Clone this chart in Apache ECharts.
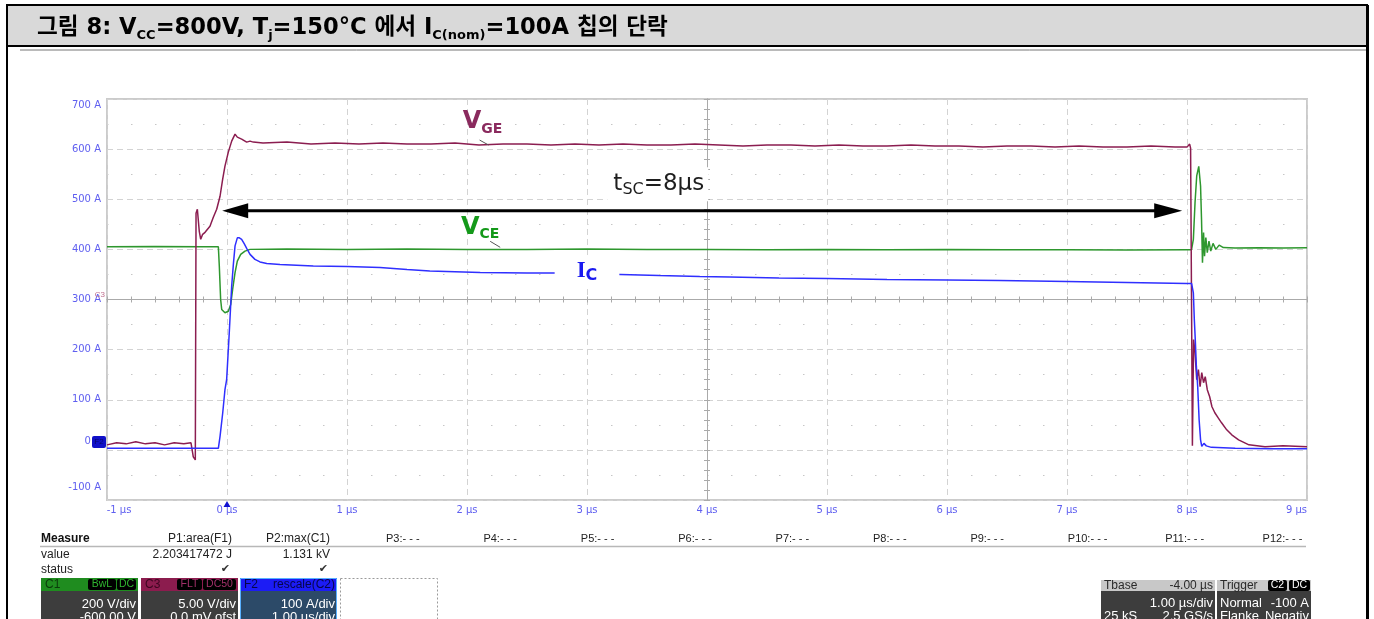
<!DOCTYPE html>
<html lang="ko">
<head>
<meta charset="utf-8">
<title>VCC=800V 단락</title>
<script src="https://cdn.jsdelivr.net/npm/echarts@6.0.0/dist/echarts.min.js"></script>
<style>
  html, body { margin: 0; padding: 0; background: #fff; }
  #chart { width: 1374px; height: 619px; }
</style>
</head>
<body>
<div id="chart"></div>
<script>
// Screen ranges: 10 x 8 divisions
const timeRange = [-1, 9];       // µs, 1.00 µs/div
const icRange = [-100, 700];     // A, F2 = rescale(C2), 100 A/div
const vceRange = [-200, 1400];   // V, C1 200 V/div, offset -600 V
const vgeRange = [-20, 20];      // V, C3 5.00 V/div, 0 V offset

// Gate-emitter voltage V_GE (C3), µs / V
const vgeTime = [-1.00, -0.92, -0.84, -0.76, -0.68, -0.60, -0.52, -0.44, -0.36, -0.30,
  -0.281, -0.264, -0.258, -0.247, -0.231, -0.219, -0.203, -0.183, -0.142, -0.114, -0.086, -0.058, -0.036, -0.017,
  0.011, 0.039, 0.067, 0.086, 0.122, 0.164, 0.192, 0.219,
  0.3, 0.5, 0.7, 0.9, 1.1, 1.3, 1.5, 1.7, 1.9, 2.1, 2.3, 2.5, 2.7, 2.9, 3.1, 3.3, 3.5, 3.7, 3.9, 4.1,
  4.3, 4.5, 4.7, 4.9, 5.1, 5.3, 5.5, 5.7, 5.9, 6.1, 6.3, 6.5, 6.7, 6.9, 7.1, 7.3, 7.5, 7.7, 7.9,
  8.000, 8.022, 8.030, 8.045, 8.055, 8.067, 8.081, 8.095, 8.109, 8.123, 8.138, 8.152, 8.169, 8.189,
  8.208, 8.232, 8.260, 8.288, 8.331, 8.373, 8.430, 8.516, 8.65, 8.80, 9.00];
const vgeVolts = [-14.5, -14.3, -14.4, -14.2, -14.4, -14.3, -14.5, -14.3, -14.4, -14.3,
  -15.7, -16.0, 8.6, 9.0, 6.8, 6.0, 6.5, 6.7, 7.3, 8.2, 9.0, 10.3, 12.0, 13.3,
  14.7, 15.8, 16.5, 16.2, 16.0, 15.7, 15.8, 15.7,
  15.6, 15.7, 15.5, 15.6, 15.5, 15.6, 15.5, 15.5, 15.6, 15.4, 15.5, 15.5, 15.4, 15.5, 15.4, 15.5, 15.4, 15.4, 15.5, 15.4,
  15.3, 15.4, 15.4, 15.3, 15.4, 15.3, 15.3, 15.4, 15.3, 15.3, 15.2, 15.3, 15.3, 15.2, 15.3, 15.2, 15.2, 15.3, 15.2,
  15.2, 15.5, 15.1, -14.6, -4.0, -5.3, -8.0, -7.0, -8.7, -7.3, -8.3, -7.7, -9.0, -9.7,
  -10.7, -11.3, -11.8, -12.3, -13.0, -13.5, -14.0, -14.5, -14.7, -14.6, -14.7];

// Collector-emitter voltage V_CE (C1), µs / V
const vceTime = [-1.00, -0.60, -0.20, -0.072, -0.064, -0.053, -0.044, -0.017, 0.011, 0.031, 0.047, 0.067, 0.086, 0.114, 0.150, 0.192,
  0.5, 1.0, 1.5, 2.0, 2.5, 3.0, 3.5, 4.0, 4.5, 5.0, 5.5, 6.0, 6.5, 7.0, 7.5, 8.0,
  8.038, 8.053, 8.067, 8.081, 8.098, 8.113, 8.121, 8.129, 8.138, 8.146, 8.157, 8.169, 8.183, 8.198, 8.217,
  8.240, 8.268, 8.303, 8.40, 8.60, 8.80, 9.00];
const vceVolts = [810, 811, 810, 810, 733, 600, 560, 547, 553, 580, 640, 707, 753, 780, 793, 800,
  801, 800, 801, 800, 800, 801, 800, 800, 799, 800, 799, 800, 799, 799, 798, 799,
  799, 840, 987, 1093, 1131, 1053, 920, 747, 867, 773, 847, 787, 833, 793, 824,
  800, 817, 807, 805, 806, 805, 806];

// Collector current I_C (F2), µs / A
const icTime = [-1.00, -0.60, -0.30, -0.072, -0.058, -0.036, -0.017, -0.003,
  0.019, 0.039, 0.053, 0.067, 0.086, 0.103, 0.122, 0.142, 0.164, 0.192,
  0.233, 0.275, 0.331, 0.442, 0.719, 1.00, 1.275, 1.50, 1.69, 2.11,
  2.50, 2.73, 3.28, 3.60, 3.94, 4.19, 4.60, 5.00, 5.50, 6.00,
  6.44, 7.00, 7.50, 8.00, 8.038,
  8.053, 8.061, 8.069, 8.078, 8.089, 8.101, 8.113, 8.123, 8.141, 8.161,
  8.203, 8.402, 8.70, 9.00];
const icAmps = [3, 3, 3, 3, 27, 73, 120, 140,
  234, 327, 370, 407, 423, 423, 420, 412, 402, 390,
  380, 375, 372, 370, 367, 366, 364, 360, 357, 354,
  353, 353, 350, 348, 346, 345, 343, 342, 340, 339,
  338, 336, 334, 332, 332,
  313, 260, 220, 167, 127, 60, 20, 7, 13, 8,
  5, 3, 2, 2];

// Short-circuit interval t_SC = 8 µs
const tscStart = -0.04;
const tscEnd = 7.96;

// Measurement readout
const measureNames = ['P1:area(F1)', 'P2:max(C1)', 'P3:- - -', 'P4:- - -', 'P5:- - -', 'P6:- - -',
  'P7:- - -', 'P8:- - -', 'P9:- - -', 'P10:- - -', 'P11:- - -', 'P12:- - -'];
const measureValues = ['2.203417472 J', '1.131 kV'];

const zip = (t, v) => t.map((x, i) => [x, v[i]]);

const chart = echarts.init(document.getElementById('chart'), null, { renderer: 'canvas' });

const labelBlue = '#5f5ff0';
const labelFont = 'DejaVu Sans, Verdana, sans-serif';
const gridDash = { color: '#d3d3d3', type: [6, 4], width: 1 };
const centreLine = { color: '#aaaaaa', width: 1 };

function lbl(size, pad) {
  return { color: labelBlue, fontSize: size, fontFamily: labelFont, padding: pad };
}

// centre graticule axes with 0.2 div ticks on both sides
function centreX(inside) {
  return {
    type: 'value', min: -5, max: 5, interval: 1, position: 'bottom', offset: -200.5,
    axisLine: { show: true, lineStyle: centreLine },
    axisTick: { show: true, inside, length: 3, lineStyle: centreLine },
    minorTick: { show: true, splitNumber: 5, length: 3, lineStyle: centreLine },
    axisLabel: { show: false }, splitLine: { show: false }
  };
}
function centreY(inside) {
  return {
    type: 'value', min: -4, max: 4, interval: 1, position: 'left', offset: -600,
    axisLine: { show: true, lineStyle: centreLine },
    axisTick: { show: true, inside, length: 3, lineStyle: centreLine },
    minorTick: { show: true, splitNumber: 5, length: 3, lineStyle: centreLine },
    axisLabel: { show: false }, splitLine: { show: false }
  };
}

const option = {
  animation: false,
  backgroundColor: '#ffffff',
  grid: { left: 107, top: 99, width: 1200, height: 401, show: true, borderColor: '#cbcbcb', borderWidth: 2 },
  xAxis: [
    {
      type: 'value', min: timeRange[0], max: timeRange[1], interval: 1, position: 'bottom',
      axisLine: { show: false }, axisTick: { show: false },
      axisLabel: {
        margin: 5,
        formatter: v => v === timeRange[0] ? '{lo|' + v + ' µs}' : v === timeRange[1] ? '{hi|' + v + ' µs}' : '{n|' + v + ' µs}',
        rich: { n: lbl(10, 0), lo: lbl(10, [0, 0, 0, 24]), hi: lbl(10, [0, 21, 0, 0]) }
      },
      splitLine: { show: true, lineStyle: gridDash }
    },
    centreX(false),
    centreX(true)
  ],
  yAxis: [
    {
      type: 'value', min: icRange[0], max: icRange[1], interval: 100, position: 'left',
      axisLine: { show: false }, axisTick: { show: false },
      axisLabel: {
        margin: 6,
        formatter: v => v === icRange[1] ? '{hi|' + v + ' A}' : v === icRange[0] ? '{lo|' + v + ' A}' : v === 0 ? '{z|' + v + ' A}' : '{n|' + v + ' A}',
        rich: { n: lbl(10, 0), hi: lbl(10, [12, 0, 0, 0]), lo: lbl(10, [0, 0, 26, 0]), z: lbl(10, [0, 0, 16, 0]) }
      },
      splitLine: { show: true, lineStyle: gridDash },
      minorTick: { show: false, splitNumber: 2 },
      minorSplitLine: { show: true, lineStyle: { color: '#c6c6c6', type: [1.5, 22.5], width: 1 } }
    },
    { type: 'value', min: vceRange[0], max: vceRange[1], show: false, position: 'right' },
    { type: 'value', min: vgeRange[0], max: vgeRange[1], show: false, position: 'right' },
    centreY(false),
    centreY(true)
  ],
  series: [
    {
      name: 'V_CE', type: 'line', xAxisIndex: 0, yAxisIndex: 1, data: zip(vceTime, vceVolts),
      symbol: 'none', lineStyle: { color: '#2e972e', width: 1.5 }, z: 3, silent: true
    },
    {
      name: 'V_GE', type: 'line', xAxisIndex: 0, yAxisIndex: 2, data: zip(vgeTime, vgeVolts),
      symbol: 'none', lineStyle: { color: '#8b1d50', width: 1.5 }, z: 4, silent: true
    },
    {
      name: 'I_C', type: 'line', xAxisIndex: 0, yAxisIndex: 0, data: zip(icTime, icAmps),
      symbol: 'none', lineStyle: { color: '#2f2fff', width: 1.5 }, z: 5, silent: true
    }
  ]
};
chart.setOption(option);

// ---------- overlay: frame, annotations, readout ----------
const px = (yi, pt) => chart.convertToPixel({ xAxisIndex: 0, yAxisIndex: yi }, pt);
const tableFont = 'Liberation Sans, Arial, sans-serif';
const g = [];

function T(x, y, text, st, z) {
  g.push({ type: 'text', x, y, z: z || 60, silent: true,
    style: Object.assign({ text, fill: '#222', fontSize: 12, fontFamily: tableFont, align: 'left', verticalAlign: 'middle' }, st || {}) });
}
function R(x, y, w, h, fill, extra) {
  const e = extra || {};
  g.push({ type: 'rect', z: e.z || 55, silent: true, shape: { x, y, width: w, height: h, r: e.r || 0 },
    style: { fill, stroke: e.stroke || null, lineWidth: e.lw || 0, lineDash: e.dash || null } });
}
function L(x1, y1, x2, y2, stroke, lw, z) {
  g.push({ type: 'line', z: z || 58, silent: true, shape: { x1, y1, x2, y2 }, style: { stroke, lineWidth: lw } });
}

// page frame and caption bar
R(7, 5, 1360, 41, '#d9d9d9', { stroke: '#000', lw: 2, z: 50 });
L(7, 46, 7, 625, '#000', 2);
L(1367.5, 5, 1367.5, 625, '#000', 3);
L(20, 50, 1366, 50, '#777', 1);
const capFont = "'DejaVu Sans', 'Noto Sans CJK KR', sans-serif";
g.push({ type: 'text', x: 37, y: 28, z: 61, silent: true, style: {
  text: '{m|그림 8: V}{s|CC}{m|=800V, T}{s|j}{m|=150°C 에서 I}{s|C(nom)}{m|=100A 칩의 단락}',
  align: 'left', verticalAlign: 'middle',
  rich: {
    m: { fontSize: 22.6, fontWeight: 'bold', fontFamily: capFont, fill: '#000', lineHeight: 28 },
    s: { fontSize: 13, fontWeight: 'bold', fontFamily: capFont, fill: '#000', lineHeight: 14, verticalAlign: 'bottom' }
  } } });

// trace labels
const pGE = px(2, [2.13, 17.7]);
g.push({ type: 'text', x: pGE[0], y: pGE[1], z: 70, silent: true, style: {
  text: '{v|V}{s|GE}', align: 'center', verticalAlign: 'middle',
  rich: {
    v: { fontSize: 24, fontWeight: 'bold', fontFamily: 'DejaVu Sans', fill: '#8a2a5e', lineHeight: 28 },
    s: { fontSize: 14, fontWeight: 'bold', fontFamily: 'DejaVu Sans', fill: '#8a2a5e', lineHeight: 16, verticalAlign: 'bottom' }
  } } });
L(pGE[0] - 3, pGE[1] + 18, pGE[0] + 6, pGE[1] + 23, '#555', 1, 70);

const pCE = px(1, [2.11, 888]);
g.push({ type: 'text', x: pCE[0], y: pCE[1], z: 70, silent: true, style: {
  text: '{v|V}{s|CE}', align: 'center', verticalAlign: 'middle',
  rich: {
    v: { fontSize: 24, fontWeight: 'bold', fontFamily: 'DejaVu Sans', fill: '#14991a', lineHeight: 28 },
    s: { fontSize: 14, fontWeight: 'bold', fontFamily: 'DejaVu Sans', fill: '#14991a', lineHeight: 16, verticalAlign: 'bottom' }
  } } });
L(pCE[0] + 10, pCE[1] + 14, pCE[0] + 20, pCE[1] + 20, '#555', 1, 70);

const pIC = px(0, [3.0, 356]);
g.push({ type: 'text', x: pIC[0], y: pIC[1], z: 70, silent: true, style: {
  text: '{v|I}{s|C}', align: 'center', verticalAlign: 'middle',
  backgroundColor: '#ffffff', padding: [2, 22, 2, 22],
  rich: {
    v: { fontSize: 23, fontWeight: 'bold', fontFamily: 'Liberation Serif', fill: '#1a1af0', lineHeight: 24 },
    s: { fontSize: 16, fontWeight: 'bold', fontFamily: 'DejaVu Sans', fill: '#1a1af0', lineHeight: 16, verticalAlign: 'bottom' }
  } } });

const pTs = px(0, [3.59, 530]);
g.push({ type: 'text', x: pTs[0], y: pTs[1], z: 70, silent: true, style: {
  text: '{t|t}{s|SC}{t|=8µs}', align: 'center', verticalAlign: 'middle',
  backgroundColor: '#ffffff', padding: [3, 4, 3, 6],
  rich: {
    t: { fontSize: 23, fontFamily: 'DejaVu Sans', fill: '#1e1e1e', lineHeight: 28 },
    s: { fontSize: 16, fontFamily: 'DejaVu Sans', fill: '#1e1e1e', lineHeight: 18, verticalAlign: 'bottom' }
  } } });

// t_SC double arrow
const aL = px(0, [tscStart, 477]);
const aR = px(0, [tscEnd, 477]);
L(aL[0] + 20, aL[1], aR[0] - 20, aR[1], '#000', 3, 72);
g.push({ type: 'polygon', z: 72, silent: true, shape: { points: [[aL[0], aL[1]], [aL[0] + 26, aL[1] - 7.5], [aL[0] + 26, aL[1] + 7.5]] }, style: { fill: '#000' } });
g.push({ type: 'polygon', z: 72, silent: true, shape: { points: [[aR[0], aR[1]], [aR[0] - 28, aR[1] - 7.5], [aR[0] - 28, aR[1] + 7.5]] }, style: { fill: '#000' } });

// channel ground markers and trigger marker
const pF2 = px(0, [timeRange[0], 0]);
R(pF2[0] - 15, pF2[1] - 14, 14, 12, '#1010c8', { r: 2, z: 75 });
T(pF2[0] - 8, pF2[1] - 8, 'F2', { fill: '#06066a', fontSize: 8, align: 'center' }, 76);
const pC3 = px(2, [timeRange[0], 0]);
T(pC3[0] - 2, pC3[1] - 5, 'C3', { fill: '#c0708f', fontSize: 8, align: 'right' }, 76);
const pTr = px(0, [0, icRange[0]]);
g.push({ type: 'polygon', z: 76, silent: true, shape: { points: [[pTr[0], pTr[1] + 1], [pTr[0] - 3.5, pTr[1] + 7], [pTr[0] + 3.5, pTr[1] + 7]] }, style: { fill: '#1010d0' } });

// measurement readout
T(41, 539, 'Measure', { fontWeight: 'bold', fill: '#111' });
measureNames.forEach((name, i) => {
  if (i === 0) T(232, 539, name, { align: 'right' });
  else if (i === 1) T(330, 539, name, { align: 'right' });
  else T(386 + (i - 2) * 97.4, 539, name, { fontSize: 11 });
});
L(40, 546.5, 1306, 546.5, '#b8b8b8', 1.5);
T(41, 555, 'value');
T(232, 555, measureValues[0], { align: 'right' });
T(330, 555, measureValues[1], { align: 'right' });
T(41, 570, 'status');
T(230, 569, '✔', { align: 'right', fontSize: 11, fontFamily: 'DejaVu Sans', fill: '#333' });
T(328, 569, '✔', { align: 'right', fontSize: 11, fontFamily: 'DejaVu Sans', fill: '#333' });

const channels = [
  { x: 41, name: 'C1', tags: [['BwL', 29], ['DC', 20]], strip: '#1f8c1f', ink: '#0b3b0b', tagInk: '#2fb52f', body: '#3d3d3d', lines: ['200 V/div', '-600.00 V'] },
  { x: 141, name: 'C3', tags: [['FLT', 26], ['DC50', 34]], strip: '#8c1c4e', ink: '#3d0620', tagInk: '#a3306a', body: '#3d3d3d', lines: ['5.00 V/div', '0.0 mV ofst'] },
  { x: 240, name: 'F2', right: 'rescale(C2)', tags: [], strip: '#1c1cf5', ink: '#06064a', body: '#2c4a68', lines: ['100 A/div', '1.00 µs/div'], outline: '#58b0ff' }
];
channels.forEach(c => {
  R(c.x, 578, 97, 50, c.body);
  R(c.x, 578, 97, 13, c.strip);
  if (c.outline) R(c.x + 0.5, 578.5, 96, 50, 'none', { stroke: c.outline, lw: 1, z: 57 });
  T(c.x + 4, 584.5, c.name, { fill: c.ink, fontSize: 12 });
  if (c.right) T(c.x + 95, 584.5, c.right, { fill: c.ink, fontSize: 12, align: 'right' });
  let tx = c.x + 96;
  for (let k = c.tags.length - 1; k >= 0; k--) {
    const [tag, w] = c.tags[k];
    tx -= w;
    R(tx, 579, w - 1, 11, '#000', { r: 2, z: 56 });
    T(tx + (w - 1) / 2, 584.5, tag, { fill: c.tagInk, fontSize: 10.5, align: 'center' });
  }
  T(c.x + 95, 604, c.lines[0], { fill: '#fff', fontSize: 13, align: 'right' });
  T(c.x + 95, 617, c.lines[1], { fill: '#fff', fontSize: 13, align: 'right' });
});
R(340.5, 578.5, 97, 50, 'none', { stroke: '#9a9a9a', lw: 1, dash: [2, 2] });

// timebase and trigger boxes
R(1101, 580, 114, 50, '#3d3d3d');
R(1101, 580, 114, 11, '#c8c8c8');
T(1104, 585.5, 'Tbase', { fill: '#2a2a2a', fontSize: 12 });
T(1213, 585.5, '-4.00 µs', { fill: '#2a2a2a', fontSize: 12, align: 'right' });
T(1213, 603.5, '1.00 µs/div', { fill: '#fff', fontSize: 13, align: 'right' });
T(1104, 616.5, '25 kS', { fill: '#fff', fontSize: 13 });
T(1213, 616.5, '2.5 GS/s', { fill: '#fff', fontSize: 13, align: 'right' });
R(1217, 580, 94, 50, '#3d3d3d');
R(1217, 580, 94, 11, '#c8c8c8');
T(1220, 585.5, 'Trigger', { fill: '#2a2a2a', fontSize: 12 });
R(1268, 580, 19, 11, '#000', { r: 2, z: 56 });
T(1277.5, 585.5, 'C2', { fill: '#fff', fontSize: 10.5, align: 'center' });
R(1289, 580, 21, 11, '#000', { r: 2, z: 56 });
T(1299.5, 585.5, 'DC', { fill: '#fff', fontSize: 10.5, align: 'center' });
T(1220, 603.5, 'Normal', { fill: '#fff', fontSize: 13 });
T(1309, 603.5, '-100 A', { fill: '#fff', fontSize: 13, align: 'right' });
T(1220, 616.5, 'Flanke', { fill: '#fff', fontSize: 13 });
T(1309, 616.5, 'Negativ', { fill: '#fff', fontSize: 13, align: 'right' });

chart.setOption({ graphic: { elements: g } });
</script>
</body>
</html>
